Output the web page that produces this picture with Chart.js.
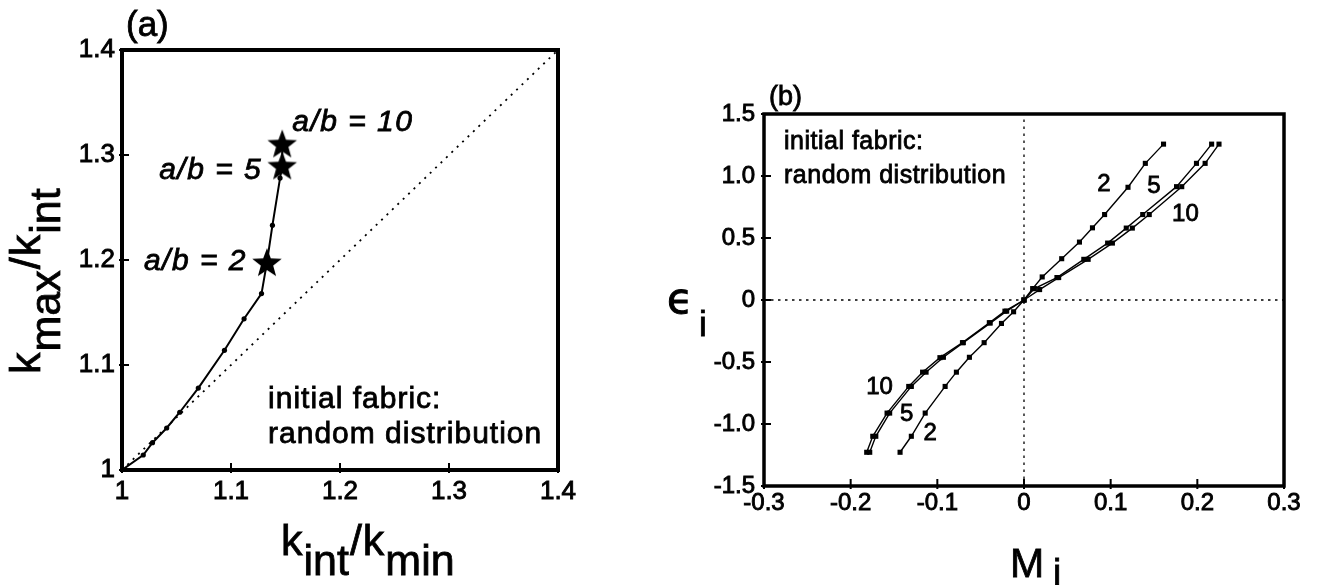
<!DOCTYPE html>
<html>
<head>
<meta charset="utf-8">
<script src="https://cdn.jsdelivr.net/npm/chart.js@4.4.0/dist/chart.umd.min.js"></script>
<style>
  html, body { margin: 0; padding: 0; background: #fff; }
  #wrap { position: relative; width: 1319px; height: 585px; overflow: hidden; }
  #chartA { position: absolute; left: 0; top: 0; }
  #chartB { position: absolute; left: 650px; top: 0; }
</style>
</head>
<body>
<div id="wrap">
  <canvas id="chartA" width="650" height="585"></canvas>
  <canvas id="chartB" width="669" height="585"></canvas>
</div>
<script>
// Panel (a): principal ratios along the loading path
const ratioIntMin = [1.000, 1.0195, 1.028, 1.041, 1.053, 1.070, 1.094, 1.112, 1.128, 1.133, 1.138, 1.145, 1.147, 1.147];
const ratioMaxInt = [1.000, 1.0143, 1.026, 1.040, 1.055, 1.078, 1.114, 1.144, 1.168, 1.198, 1.233, 1.278, 1.290, 1.311];
const starIntMin = [1.133, 1.147, 1.147];
const starMaxInt = [1.198, 1.290, 1.311];
const starLabels = ['a/b = 2', 'a/b = 5', 'a/b = 10'];
const diagX = [1.0, 1.4];
const diagY = [1.0, 1.4];
const tickValsA = [1.0, 1.1, 1.2, 1.3, 1.4];
const tickLabelsA = ['1', '1.1', '1.2', '1.3', '1.4'];

// Panel (b): strain vs. fabric measure, one curve per aspect ratio
const mi2 = [-0.143, -0.130, -0.114, -0.091, -0.078, -0.063, -0.046, -0.026, -0.012, 0, 0.010, 0.021, 0.0435, 0.064, 0.079, 0.093, 0.120, 0.140, 0.161];
const eps2 = [-1.228, -1.099, -0.912, -0.697, -0.582, -0.462, -0.344, -0.189, -0.095, 0, 0.092, 0.186, 0.333, 0.467, 0.582, 0.689, 0.909, 1.102, 1.257];
const mi5 = [-0.178, -0.171, -0.155, -0.130, -0.113, -0.093, -0.070, -0.039, -0.020, 0, 0.012, 0.038, 0.069, 0.0965, 0.118, 0.137, 0.176, 0.199, 0.2165];
const eps5 = [-1.228, -1.099, -0.912, -0.697, -0.582, -0.462, -0.344, -0.186, -0.090, 0, 0.092, 0.181, 0.328, 0.459, 0.580, 0.689, 0.914, 1.102, 1.257];
const mi10 = [-0.1815, -0.1745, -0.158, -0.133, -0.117, -0.097, -0.071, -0.040, -0.022, 0, 0.018, 0.040, 0.074, 0.102, 0.125, 0.1445, 0.182, 0.209, 0.225];
const eps10 = [-1.228, -1.099, -0.912, -0.697, -0.582, -0.465, -0.344, -0.183, -0.090, 0, 0.084, 0.181, 0.328, 0.459, 0.580, 0.689, 0.914, 1.102, 1.257];
const curveNames = ['2', '5', '10'];
const zeroX = [-0.3, 0.3];
const zeroY = [-1.5, 1.5];
const tickValsBx = [-0.3, -0.2, -0.1, 0, 0.1, 0.2, 0.3];
const tickLabelsBx = ['-0.3', '-0.2', '-0.1', '0', '0.1', '0.2', '0.3'];
const tickValsBy = [-1.5, -1.0, -0.5, 0, 0.5, 1.0, 1.5];
const tickLabelsBy = ['-1.5', '-1.0', '-0.5', '0', '0.5', '1.0', '1.5'];

const FONT = '"Liberation Sans", Arial, Helvetica, sans-serif';

function pts(xs, ys) {
  return xs.map((x, i) => ({ x, y: ys[i] }));
}

function makeStar(size) {
  const c = document.createElement('canvas');
  c.width = size;
  c.height = size;
  const g = c.getContext('2d');
  const r1 = size / 2 - 0.5, r2 = r1 * 0.42;
  g.beginPath();
  for (let i = 0; i < 10; i++) {
    const r = i % 2 ? r2 : r1;
    const a = -Math.PI / 2 + i * Math.PI / 5;
    const px = size / 2 + r * Math.cos(a), py = size / 2 + 1.5 + r * Math.sin(a);
    if (i) g.lineTo(px, py); else g.moveTo(px, py);
  }
  g.closePath();
  g.fillStyle = '#000';
  g.fill();
  return c;
}

// scanned text looks heavy, so fill and outline it a little
function heavyText(ctx, t, x, y, w) {
  ctx.fillText(t, x, y);
  ctx.lineWidth = w || 0.8;
  ctx.strokeText(t, x, y);
}

// draw text made of normal and subscript parts, left to right
function drawParts(ctx, parts, x, y) {
  let cx = x;
  parts.forEach(p => {
    ctx.font = p.font;
    heavyText(ctx, p.t, cx, y + (p.dy || 0));
    cx += ctx.measureText(p.t).width + 1;
  });
}

// heavy box and tick marks, like the original plot
function framePlugin(frameWidth, tickIn, tickOut) {
  return {
    id: 'frame',
    afterDatasetsDraw(chart) {
      const { ctx, chartArea: a, scales } = chart;
      ctx.save();
      ctx.strokeStyle = '#000';
      ctx.lineWidth = 2;
      ctx.beginPath();
      scales.x.ticks.forEach(t => {
        const px = scales.x.getPixelForValue(t.value);
        ctx.moveTo(px, a.bottom + tickOut);
        ctx.lineTo(px, a.bottom - tickIn);
      });
      scales.y.ticks.forEach(t => {
        const py = scales.y.getPixelForValue(t.value);
        ctx.moveTo(a.left - tickOut, py);
        ctx.lineTo(a.left + tickIn, py);
      });
      ctx.stroke();
      ctx.lineWidth = frameWidth;
      ctx.lineJoin = 'miter';
      ctx.strokeRect(a.left, a.top, a.right - a.left, a.bottom - a.top);
      ctx.restore();
    }
  };
}

function tickCfg(vals, labels, size, pad) {
  return {
    afterBuildTicks: s => { s.ticks = vals.map(v => ({ value: v })); },
    grid: { display: false, drawTicks: false },
    border: { display: false },
    ticks: {
      color: '#000',
      textStrokeColor: '#000',
      textStrokeWidth: 0.9,
      padding: pad,
      autoSkip: false,
      maxRotation: 0,
      font: { family: FONT, size: size },
      callback: (v, i) => labels[i]
    }
  };
}

const starImg = makeStar(32);

const textA = {
  id: 'textA',
  afterDraw(chart) {
    const { ctx, scales } = chart;
    const sx = scales.x, sy = scales.y;
    ctx.save();
    ctx.fillStyle = '#000';
    ctx.strokeStyle = '#000';
    ctx.textBaseline = 'alphabetic';

    ctx.font = '35px ' + FONT;
    ctx.textAlign = 'left';
    heavyText(ctx, '(a)', 126, 36);

    // star labels, anchored to their stars
    ctx.font = 'italic 30px ' + FONT;
    ctx.letterSpacing = '1.5px';
    const offs = [[-20, 8, 'right'], [-20, 13, 'right'], [10, -12, 'left']];
    starLabels.forEach((lab, i) => {
      const px = sx.getPixelForValue(starIntMin[i]);
      const py = sy.getPixelForValue(starMaxInt[i]);
      ctx.textAlign = offs[i][2];
      heavyText(ctx, lab, px + offs[i][0], py + offs[i][1]);
    });

    ctx.textAlign = 'left';
    ctx.font = '30px ' + FONT;
    ctx.letterSpacing = '1px';
    heavyText(ctx, 'initial fabric:', sx.getPixelForValue(1.134), sy.getPixelForValue(1.059));
    heavyText(ctx, 'random distribution', sx.getPixelForValue(1.134), sy.getPixelForValue(1.026));
    ctx.letterSpacing = '0px';

    // axis titles with subscripts
    const big = '43px ' + FONT;
    drawParts(ctx, [
      { t: 'k', font: big },
      { t: 'int', font: big, dy: 20 },
      { t: '/', font: big },
      { t: 'k', font: big },
      { t: 'min', font: big, dy: 20 }
    ], 281, 555);

    ctx.translate(40, 374);
    ctx.rotate(-Math.PI / 2);
    drawParts(ctx, [
      { t: 'k', font: big },
      { t: 'max', font: big, dy: 20 },
      { t: '/', font: big },
      { t: 'k', font: big },
      { t: 'int', font: big, dy: 20 }
    ], 0, 0);
    ctx.restore();
  }
};

new Chart(document.getElementById('chartA'), {
  type: 'scatter',
  data: {
    datasets: [
      {
        data: pts(diagX, diagY), showLine: true, borderColor: '#000',
        borderWidth: 1.8, borderDash: [2, 5.5], pointRadius: 0
      },
      {
        data: pts(ratioIntMin, ratioMaxInt), showLine: true, borderColor: '#000',
        borderWidth: 2, pointRadius: 2.6, pointBackgroundColor: '#000', pointBorderWidth: 0
      },
      {
        data: pts(starIntMin, starMaxInt), showLine: false,
        pointStyle: starImg, pointRadius: 16
      }
    ]
  },
  options: {
    responsive: false,
    animation: false,
    devicePixelRatio: 1,
    layout: { padding: { left: 62, top: 50, right: 92, bottom: 55 } },
    plugins: { legend: { display: false }, tooltip: { enabled: false } },
    scales: {
      x: Object.assign({ type: 'linear', min: 1, max: 1.4, afterFit: s => { s.height = 60; } },
        tickCfg(tickValsA, tickLabelsA, 26, 6)),
      y: Object.assign({ type: 'linear', min: 1, max: 1.4, afterFit: s => { s.width = 60; } },
        tickCfg(tickValsA, tickLabelsA, 26, 7))
    }
  },
  plugins: [framePlugin(4, 7, 3), textA]
});

const textB = {
  id: 'textB',
  afterDraw(chart) {
    const { ctx, scales } = chart;
    const sx = scales.x, sy = scales.y;
    ctx.save();
    ctx.fillStyle = '#000';
    ctx.strokeStyle = '#000';
    ctx.textBaseline = 'alphabetic';
    ctx.textAlign = 'left';

    ctx.font = '27px ' + FONT;
    heavyText(ctx, '(b)', 119, 105);

    ctx.font = '25px ' + FONT;
    ctx.letterSpacing = '0.5px';
    heavyText(ctx, 'initial fabric:', 134, 149);
    heavyText(ctx, 'random distribution', 134, 183);
    ctx.letterSpacing = '0px';

    // curve labels near the ends of each curve
    ctx.font = '24px ' + FONT;
    ctx.textAlign = 'center';
    ctx.textBaseline = 'middle';
    const spots = [
      [[0.0923, 0.934], [-0.1084, -1.072]],
      [[0.1499, 0.918], [-0.1355, -0.924]],
      [[0.1863, 0.691], [-0.1666, -0.703]]
    ];
    curveNames.forEach((name, i) => {
      spots[i].forEach(p => {
        heavyText(ctx, name, sx.getPixelForValue(p[0]), sy.getPixelForValue(p[1]));
      });
    });

    // axis titles
    ctx.textAlign = 'left';
    ctx.textBaseline = 'alphabetic';
    ctx.font = '42px "DejaVu Sans", ' + FONT;
    heavyText(ctx, '\u03F5', 17, 313, 1);
    ctx.font = '35px ' + FONT;
    heavyText(ctx, 'i', 49, 336);

    ctx.font = '41px ' + FONT;
    heavyText(ctx, 'M', 360, 577);
    ctx.font = '37px ' + FONT;
    heavyText(ctx, 'i', 403, 585);
    ctx.restore();
  }
};

function curveSet(xs, ys) {
  return {
    data: pts(xs, ys), showLine: true, borderColor: '#000', borderWidth: 1.4,
    pointStyle: 'rect', pointRadius: 3.6, pointBackgroundColor: '#000', pointBorderWidth: 0
  };
}

new Chart(document.getElementById('chartB'), {
  type: 'scatter',
  data: {
    datasets: [
      {
        data: pts(zeroX, [0, 0]), showLine: true, borderColor: '#000',
        borderWidth: 1.3, borderDash: [2.5, 4.5], pointRadius: 0
      },
      {
        data: pts([0, 0], zeroY), showLine: true, borderColor: '#000',
        borderWidth: 1.3, borderDash: [2.5, 4.5], pointRadius: 0
      },
      curveSet(mi2, eps2),
      curveSet(mi5, eps5),
      curveSet(mi10, eps10)
    ]
  },
  options: {
    responsive: false,
    animation: false,
    devicePixelRatio: 1,
    layout: { padding: { left: 54, top: 114, right: 35, bottom: 39 } },
    plugins: { legend: { display: false }, tooltip: { enabled: false } },
    scales: {
      x: Object.assign({ type: 'linear', min: -0.3, max: 0.3, afterFit: s => { s.height = 60; } },
        tickCfg(tickValsBx, tickLabelsBx, 24, 3)),
      y: Object.assign({ type: 'linear', min: -1.5, max: 1.5, afterFit: s => { s.width = 60; } },
        tickCfg(tickValsBy, tickLabelsBy, 24, 9))
    }
  },
  plugins: [framePlugin(3.5, 7, 3), textB]
});
</script>
</body>
</html>
